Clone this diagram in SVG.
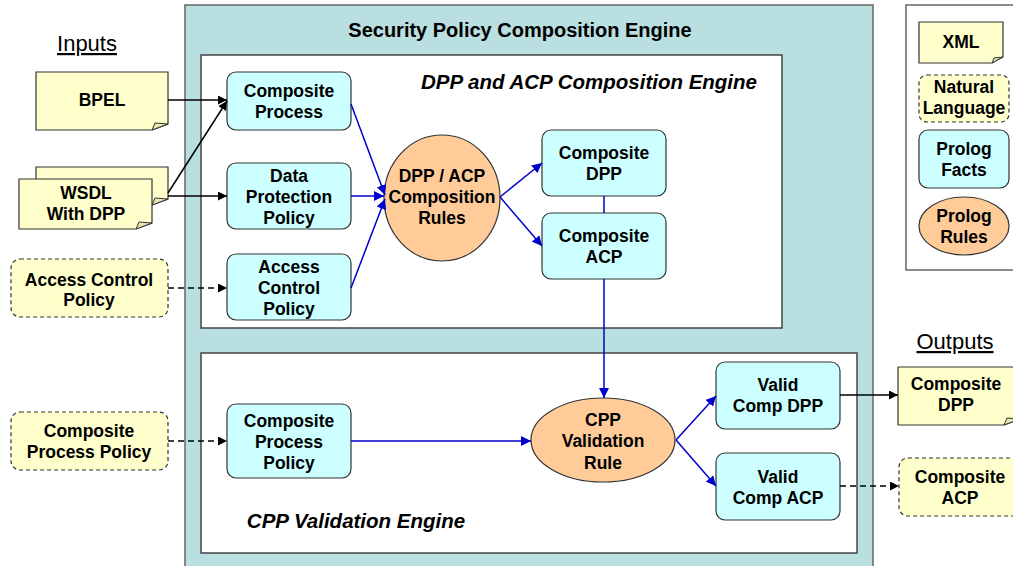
<svg xmlns="http://www.w3.org/2000/svg" width="1013" height="566" viewBox="0 0 1013 566">
<defs>
<marker id="ab" viewBox="0 0 10 10" refX="10" refY="5" markerWidth="9" markerHeight="9" markerUnits="userSpaceOnUse" orient="auto"><path d="M0,0 L10,5 L0,10 Z" fill="#000"/></marker>
<marker id="au" viewBox="0 0 10 10" refX="10" refY="5" markerWidth="10" markerHeight="10" markerUnits="userSpaceOnUse" orient="auto"><path d="M0,0 L10,5 L0,10 Z" fill="#0000CC"/></marker>
</defs>
<style>
text{font-family:"Liberation Sans",Arial,sans-serif;font-weight:bold;font-size:17.5px;text-anchor:middle;fill:#000}
.hdr{font-weight:normal;font-size:22px;text-decoration:underline}
.ttl{font-size:20px}
.it{font-style:italic;font-size:20.5px}
.node{fill:#CCFFFF;stroke:#333;stroke-width:1.2}
.doc{fill:#FFFFCC;stroke:#333;stroke-width:1.2}
.fold{fill:#E8E8B0;stroke:#333;stroke-width:1}
.nl{fill:#FFFFCC;stroke:#333;stroke-width:1.2;stroke-dasharray:4,3}
.rule{fill:#FFCC99;stroke:#333;stroke-width:1.2}
.box{fill:#fff;stroke:#444;stroke-width:1.5}
.blk{stroke:#000;stroke-width:1.5;fill:none;marker-end:url(#ab)}
.dsh{stroke:#000;stroke-width:1.5;fill:none;stroke-dasharray:6,4;marker-end:url(#ab)}
.blu{stroke:#0000CC;stroke-width:1.5;fill:none;marker-end:url(#au)}
</style>
<g id="engine">
<rect x="185" y="5" width="688" height="575" fill="#B9DFE1" stroke="#666" stroke-width="1.5"/>
<text class="ttl" x="520" y="37">Security Policy Composition Engine</text>
</g>
<g id="dpp-acp-engine">
<rect class="box" x="201" y="55" width="581" height="273"/>
<text class="it" x="589" y="89">DPP and ACP Composition Engine</text>
</g>
<g id="cpp-engine">
<rect class="box" x="201" y="353" width="656" height="200"/>
<text class="it" x="356" y="528">CPP Validation Engine</text>
</g>
<g id="inputs-label"><text class="hdr" x="87" y="51">Inputs</text></g>
<g id="outputs-label"><text class="hdr" x="955" y="349">Outputs</text></g>
<g id="bpel">
<path class="doc" d="M36,72 H168 V124 L152,130 H36 Z"/>
<path class="fold" d="M152,130 L155,123 L168,124 Z"/>
<text x="102" y="106">BPEL</text>
</g>
<g id="wsdl">
<path class="doc" d="M36,167 H168 V199 L152,205 H36 Z"/>
<path class="fold" d="M152,205 L155,198 L168,199 Z"/>
<path class="doc" d="M19,179 H152 V223 L136,229 H19 Z"/>
<path class="fold" d="M136,229 L139,222 L152,223 Z"/>
<text x="86" y="199">WSDL</text>
<text x="86" y="220">With DPP</text>
</g>
<g id="acp-input">
<rect class="nl" x="11" y="259" width="157" height="58" rx="9"/>
<text x="89" y="286">Access Control</text>
<text x="89" y="306">Policy</text>
</g>
<g id="cpp-input">
<rect class="nl" x="11" y="412" width="157" height="58" rx="9"/>
<text x="89" y="437">Composite</text>
<text x="89" y="458">Process Policy</text>
</g>
<g id="composite-process">
<rect class="node" x="227" y="72" width="124" height="58" rx="9"/>
<text x="289" y="97">Composite</text>
<text x="289" y="118">Process</text>
</g>
<g id="data-protection-policy">
<rect class="node" x="227" y="163" width="124" height="66" rx="9"/>
<text x="289" y="182">Data</text>
<text x="289" y="203">Protection</text>
<text x="289" y="224">Policy</text>
</g>
<g id="access-control-policy">
<rect class="node" x="227" y="254" width="124" height="66" rx="9"/>
<text x="289" y="273">Access</text>
<text x="289" y="294">Control</text>
<text x="289" y="315">Policy</text>
</g>
<g id="composition-rules">
<ellipse class="rule" cx="442" cy="198" rx="58" ry="63"/>
<text x="442" y="182">DPP / ACP</text>
<text x="442" y="203">Composition</text>
<text x="442" y="224">Rules</text>
</g>
<g id="composite-dpp">
<rect class="node" x="542" y="130" width="124" height="66" rx="9"/>
<text x="604" y="159">Composite</text>
<text x="604" y="180">DPP</text>
</g>
<g id="composite-acp">
<rect class="node" x="542" y="213" width="124" height="66" rx="9"/>
<text x="604" y="242">Composite</text>
<text x="604" y="263">ACP</text>
</g>
<g id="composite-process-policy">
<rect class="node" x="227" y="404" width="124" height="74" rx="9"/>
<text x="289" y="427">Composite</text>
<text x="289" y="448">Process</text>
<text x="289" y="469">Policy</text>
</g>
<g id="cpp-validation-rule">
<ellipse class="rule" cx="603" cy="440" rx="72" ry="42"/>
<text x="603" y="426">CPP</text>
<text x="603" y="447">Validation</text>
<text x="603" y="469">Rule</text>
</g>
<g id="valid-comp-dpp">
<rect class="node" x="716" y="362" width="124" height="67" rx="9"/>
<text x="778" y="391">Valid</text>
<text x="778" y="412">Comp DPP</text>
</g>
<g id="valid-comp-acp">
<rect class="node" x="716" y="453" width="124" height="67" rx="9"/>
<text x="778" y="483">Valid</text>
<text x="778" y="504">Comp ACP</text>
</g>
<g id="out-dpp">
<path class="doc" d="M898,367 H1020 V419 L1004,425 H898 Z"/>
<path class="fold" d="M1004,425 L1007,418 L1020,419 Z"/>
<text x="956" y="390">Composite</text>
<text x="956" y="411">DPP</text>
</g>
<g id="out-acp">
<rect class="nl" x="899" y="458" width="125" height="58" rx="9"/>
<text x="960" y="483">Composite</text>
<text x="960" y="504">ACP</text>
</g>
<g id="legend">
<rect x="906" y="5" width="120" height="265" fill="#fff" stroke="#666" stroke-width="1.5"/>
<path class="doc" d="M919,22 H1003 V57 L992,63 H919 Z"/>
<path class="fold" d="M992,63 L994,58 L1003,57 Z"/>
<text x="961" y="48">XML</text>
<rect class="nl" x="919" y="75" width="90" height="47" rx="8"/>
<text x="964" y="93">Natural</text>
<text x="964" y="114">Language</text>
<rect class="node" x="919" y="130" width="90" height="58" rx="9"/>
<text x="964" y="155">Prolog</text>
<text x="964" y="176">Facts</text>
<ellipse class="rule" cx="964" cy="226" rx="45" ry="29"/>
<text x="964" y="222">Prolog</text>
<text x="964" y="243">Rules</text>
</g>
<g id="connectors">
<line class="blk" x1="168" y1="100" x2="227" y2="100"/>
<line class="blk" x1="168" y1="193" x2="227" y2="101"/>
<line class="blk" x1="168" y1="196" x2="227" y2="196"/>
<line class="dsh" x1="168" y1="288" x2="227" y2="288"/>
<line class="dsh" x1="168" y1="441" x2="227" y2="441"/>
<line class="blu" x1="351" y1="104" x2="385" y2="195"/>
<line class="blu" x1="351" y1="196" x2="384" y2="196"/>
<line class="blu" x1="351" y1="288" x2="385" y2="199"/>
<line class="blu" x1="500" y1="197" x2="542" y2="163"/>
<line class="blu" x1="500" y1="197" x2="542" y2="246"/>
<line x1="604" y1="196" x2="604" y2="213" stroke="#0000CC" stroke-width="1.5"/>
<line class="blu" x1="604" y1="279" x2="604" y2="398"/>
<line class="blu" x1="351" y1="441" x2="531" y2="441"/>
<line class="blu" x1="676" y1="440" x2="716" y2="396"/>
<line class="blu" x1="676" y1="440" x2="716" y2="486"/>
<line class="blk" x1="840" y1="395" x2="898" y2="395"/>
<line class="dsh" x1="840" y1="486" x2="899" y2="486"/>
</g>
</svg>
